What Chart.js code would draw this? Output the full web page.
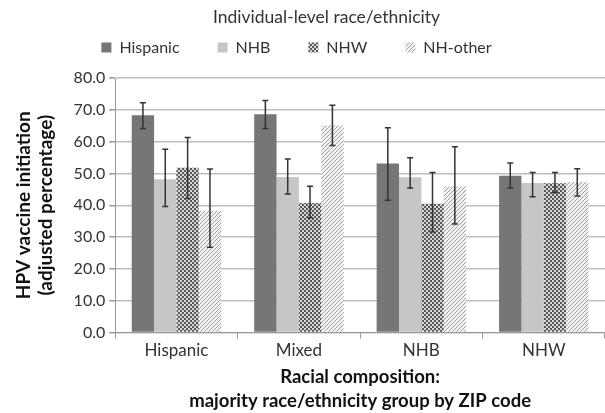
<!DOCTYPE html>
<html>
<head>
<meta charset="utf-8">
<script src="https://cdn.jsdelivr.net/npm/chart.js@4/dist/chart.umd.min.js"></script>
<style>
html,body{margin:0;padding:0;background:#fff;}
#wrap{width:605px;height:413px;position:relative;}
</style>
</head>
<body>
<div id="wrap"><canvas id="c" width="605" height="413"></canvas></div>
<script>
const categories = ['Hispanic', 'Mixed', 'NHB', 'NHW'];
const seriesNames = ['Hispanic', 'NHB', 'NHW', 'NH-other'];

const hispanic     = [68.3, 68.6, 53.1, 49.3];
const hispanicLow  = [64.1, 64.1, 41.6, 45.4];
const hispanicHigh = [72.2, 72.9, 64.4, 53.3];

const nhb     = [48.2, 48.9, 48.8, 47.0];
const nhbLow  = [39.6, 43.5, 45.4, 42.7];
const nhbHigh = [57.6, 54.5, 54.9, 50.3];

const nhw     = [51.8, 40.7, 40.5, 46.9];
const nhwLow  = [42.1, 36.1, 31.6, 44.0];
const nhwHigh = [61.3, 46.0, 50.3, 50.3];

const nhOther     = [38.3, 65.1, 45.9, 47.3];
const nhOtherLow  = [26.8, 58.8, 34.1, 42.9];
const nhOtherHigh = [51.4, 71.4, 58.4, 51.5];

const yTicks = [0, 10, 20, 30, 40, 50, 60, 70, 80];

const lows  = [hispanicLow, nhbLow, nhwLow, nhOtherLow];
const highs = [hispanicHigh, nhbHigh, nhwHigh, nhOtherHigh];
const values = [hispanic, nhb, nhw, nhOther];

function makeChecker() {
  const t = document.createElement('canvas');
  t.width = 4; t.height = 4;
  const g = t.getContext('2d');
  g.fillStyle = '#585858'; g.fillRect(0, 0, 4, 4);
  g.fillStyle = '#d6d6d6'; g.fillRect(0, 0, 2, 2); g.fillRect(2, 2, 2, 2);
  return g.createPattern(t, 'repeat');
}
function makeStripes() {
  const t = document.createElement('canvas');
  t.width = 4; t.height = 4;
  const g = t.getContext('2d');
  g.fillStyle = '#f2f2f2'; g.fillRect(0, 0, 4, 4);
  g.fillStyle = '#a0a0a0';
  for (let i = 0; i < 4; i++) { g.fillRect(3 - i, i, 1, 1); }
  return g.createPattern(t, 'repeat');
}

const ctx0 = document.getElementById('c').getContext('2d');
const fills = ['#767676', '#c6c6c6', makeChecker(), makeStripes()];

const errorBars = {
  id: 'errorBars',
  afterDatasetsDraw(chart) {
    const ctx = chart.ctx;
    const ys = chart.scales.y;
    ctx.save();
    ctx.strokeStyle = '#333';
    ctx.lineWidth = 1.5;
    chart.data.datasets.forEach((ds, i) => {
      const meta = chart.getDatasetMeta(i);
      meta.data.forEach((el, j) => {
        const x = el.x;
        const yh = ys.getPixelForValue(highs[i][j]);
        const yl = ys.getPixelForValue(lows[i][j]);
        ctx.beginPath();
        ctx.moveTo(x, yh); ctx.lineTo(x, yl);
        ctx.moveTo(x - 3, yh); ctx.lineTo(x + 3, yh);
        ctx.moveTo(x - 3, yl); ctx.lineTo(x + 3, yl);
        ctx.stroke();
      });
    });
    ctx.restore();
  }
};

// nudges the header blocks (title / legend) into the reference's spacing
const headerNudge = {
  id: 'headerNudge',
  afterLayout(chart) {
    const lg = chart.legend;
    if (lg) { lg.top -= 26; lg.left -= 12; lg.right -= 12; }
    const tb = chart.titleBlock;
    if (tb) { tb.left += 18; tb.right += 18; }
  }
};

const FONT = 'Lato, "Open Sans", sans-serif';

new Chart(ctx0, {
  type: 'bar',
  data: {
    labels: categories,
    datasets: seriesNames.map((n, i) => ({
      label: n,
      data: values[i],
      backgroundColor: fills[i],
      borderWidth: 0,
      categoryPercentage: 0.73,
      barPercentage: 1.0
    }))
  },
  options: {
    responsive: false,
    animation: false,
    layout: { padding: { left: 12, right: 0, top: 0, bottom: 0 } },
    plugins: {
      title: {
        display: true,
        text: 'Individual-level race/ethnicity',
        color: '#333',
        font: { family: FONT, size: 17.5, weight: 'normal', lineHeight: 1.2 },
        padding: { top: 6.5, bottom: 0 }
      },
      legend: {
        position: 'top',
        maxHeight: 50.5,
        labels: {
          boxWidth: 10, boxHeight: 10,
          padding: 38,
          color: '#333',
          font: { family: FONT, size: 16 }
        }
      },
      tooltip: { enabled: false }
    },
    scales: {
      x: {
        offset: true,
        grid: { display: true, offset: true, drawOnChartArea: false, color: '#999', tickLength: 6 },
        border: { color: '#999', width: 1 },
        ticks: { color: '#333', font: { family: FONT, size: 17, lineHeight: 1.2 }, padding: 2 },
        title: {
          display: true,
          text: ['Racial composition:', 'majority race/ethnicity group by ZIP code'],
          color: '#111',
          font: { family: FONT, size: 18.5, weight: 'bold', lineHeight: 1.3 },
          padding: { top: 2, bottom: 0 }
        }
      },
      y: {
        min: 0, max: 80,
        afterBuildTicks: (s) => { s.ticks = yTicks.map(v => ({ value: v })); },
        grid: { color: '#bdbdbd', lineWidth: 1.5, tickLength: 6, tickColor: '#999' },
        border: { color: '#999', width: 1 },
        ticks: { color: '#333', font: { family: FONT, size: 16 }, padding: 4, callback: (v) => Number(v).toFixed(1) },
        title: {
          display: true,
          text: ['HPV vaccine initiation', '(adjusted percentage)'],
          color: '#111',
          font: { family: FONT, size: 19, weight: 'bold', lineHeight: 1.2 },
          padding: { top: 0, bottom: 12 }
        }
      }
    }
  },
  plugins: [errorBars, headerNudge]
});
</script>
</body>
</html>
